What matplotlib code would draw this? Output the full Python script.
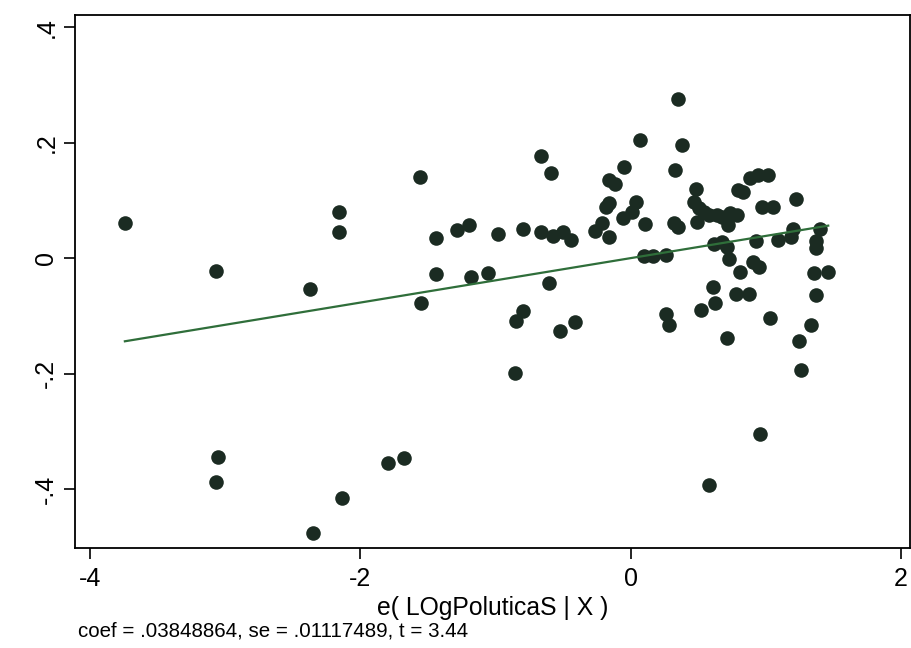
import matplotlib
matplotlib.use("Agg")
import matplotlib.pyplot as plt
import numpy as np

plt.rcParams['font.family'] = ['Liberation Sans', 'DejaVu Sans']

# Residuals e(LOgPoluticaS | X) and e(y | X)
x_resid = [-3.742, -3.065, -3.050, -3.070, -2.376, -2.354, -2.155, -2.155, -2.138, -1.799,
           -1.675, -1.557, -1.548, -1.441, -1.437, -1.282, -1.196, -1.179, -1.053, -0.982,
           -0.797, -0.851, -0.797, -0.856, -0.666, -0.666, -0.605, -0.588, -0.573, -0.524,
           -0.502, -0.415, -0.445, -0.266, -0.216, -0.157, -0.182, -0.162, -0.157, -0.113,
           -0.052, -0.057, 0.010, 0.039, 0.066, 0.108, 0.096, 0.165, 0.263, 0.261,
           0.280, 0.330, 0.349, 0.379, 0.317, 0.349, 0.482, 0.465, 0.502, 0.539,
           0.489, 0.576, 0.637, 0.674, 0.736, 0.784, 0.723, 0.797, 0.834, 0.883,
           0.945, 1.013, 0.969, 1.055, 1.223, 1.198, 1.183, 1.400, 1.368, 1.370,
           1.087, 0.928, 0.613, 0.674, 0.711, 0.728, 0.908, 0.952, 0.810, 0.610,
           0.620, 0.522, 0.777, 0.876, 1.033, 0.711, 1.358, 1.461, 1.368, 1.334,
           1.247, 1.257, 0.957, 0.581]
y_resid = [0.061, -0.023, -0.345, -0.387, -0.054, -0.476, 0.080, 0.046, -0.416, -0.354,
           -0.346, 0.140, -0.078, 0.035, -0.028, 0.048, 0.058, -0.032, -0.025, 0.042,
           0.051, -0.109, -0.092, -0.199, 0.177, 0.046, -0.043, 0.147, 0.038, -0.126,
           0.046, -0.111, 0.031, 0.047, 0.061, 0.036, 0.089, 0.096, 0.135, 0.128,
           0.157, 0.070, 0.080, 0.097, 0.204, 0.059, 0.003, 0.003, 0.005, -0.097,
           -0.116, 0.152, 0.275, 0.196, 0.060, 0.054, 0.119, 0.097, 0.086, 0.080,
           0.063, 0.074, 0.074, 0.072, 0.078, 0.074, 0.057, 0.118, 0.115, 0.138,
           0.144, 0.144, 0.088, 0.088, 0.102, 0.051, 0.036, 0.051, 0.030, 0.017,
           0.031, 0.029, 0.025, 0.028, 0.019, -0.001, -0.006, -0.016, -0.024, -0.050,
           -0.078, -0.090, -0.063, -0.063, -0.103, -0.139, -0.025, -0.024, -0.064, -0.115,
           -0.144, -0.194, -0.305, -0.393]

coef = 0.03848864
se = 0.01117489
t_stat = 3.44

x_ticks = [-4, -2, 0, 2]
x_ticklabels = ["-4", "-2", "0", "2"]
y_ticks = [-0.4, -0.2, 0, 0.2, 0.4]
y_ticklabels = ["-.4", "-.2", "0", ".2", ".4"]

fig = plt.figure(figsize=(9.11, 6.48), dpi=100)
ax = fig.add_axes([75/911, 1 - 548/648, (910 - 75)/911, (548 - 15)/648])

ax.scatter(x_resid, y_resid, s=110, color='#1b2b22', zorder=3, linewidths=0)

xs = np.array([min(x_resid), max(x_resid)])
ax.plot(xs, coef * xs, color='#2f6e3a', lw=1.6, zorder=4)

ax.set_xlim(-4.111, 2.066)
ax.set_ylim(-0.502, 0.421)

ax.set_xticks(x_ticks)
ax.set_xticklabels(x_ticklabels, fontsize=18)
ax.set_yticks(y_ticks)
ax.set_yticklabels(y_ticklabels, fontsize=18, rotation=90, va='center')

ax.tick_params(axis='both', direction='out', length=8, width=1.2, color='black')
ax.tick_params(axis='x', pad=6)
ax.tick_params(axis='y', pad=4)

for sp in ax.spines.values():
    sp.set_color('black')
    sp.set_linewidth(1.3)

ax.set_xlabel("e( LOgPoluticaS | X )", fontsize=17.8, labelpad=3)

fig.text(78/911, 1 - 631/648,
         f"coef = {coef:.8f}, se = {se:.8f}, t = {t_stat:.2f}".replace("0.", "."),
         fontsize=14.8, va='center', ha='left')

fig.savefig("out.png", dpi=100)
